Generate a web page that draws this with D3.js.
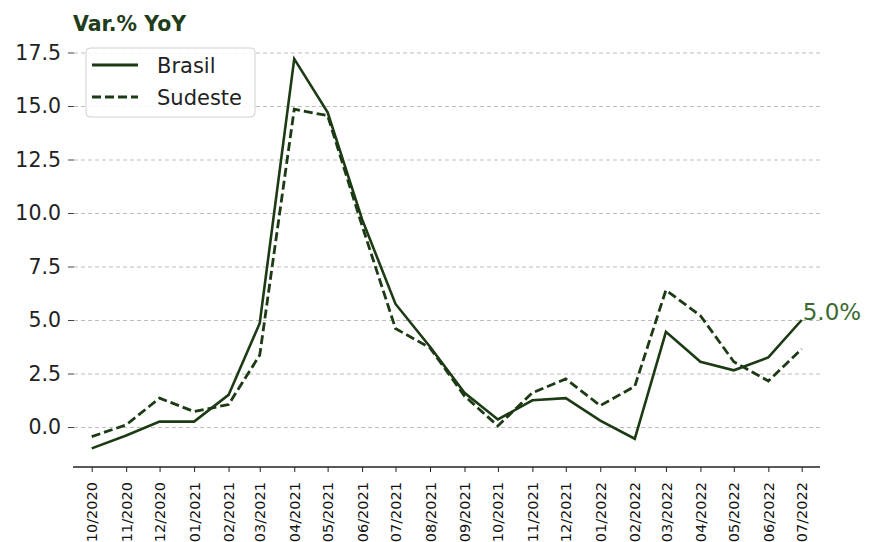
<!DOCTYPE html>
<html>
<head>
<meta charset="utf-8">
<script src="https://cdn.jsdelivr.net/npm/d3@7"></script>
<style>
    body { margin:0; background:#fff; }
    text { font-family:"DejaVu Sans", sans-serif; }
    .grid line { stroke:#bdbdbd; stroke-dasharray:4,3; }
    .grid path { display:none; }
</style>
</head>
<body>
<svg id="graph"></svg>
<script>
// monthly YoY variation (%)
var months = ["2020-10","2020-11","2020-12","2021-01","2021-02","2021-03","2021-04",
              "2021-05","2021-06","2021-07","2021-08","2021-09","2021-10","2021-11",
              "2021-12","2022-01","2022-02","2022-03","2022-04","2022-05","2022-06","2022-07"];
var brasil  = [-1.0,-0.4,0.25,0.25,1.5,4.85,17.2,14.7,9.7,5.75,3.75,1.6,0.35,1.25,1.35,0.3,-0.55,4.45,3.05,2.65,3.25,5.0];
var sudeste = [-0.45,0.1,1.35,0.72,1.05,3.36,14.85,14.55,9.4,4.6,3.7,1.45,0.05,1.6,2.25,1.0,1.9,6.4,5.2,3.05,2.15,3.65];
var yTicks = [0,2.5,5,7.5,10,12.5,15,17.5];
var seriesNames = ["Brasil","Sudeste"];

var screen = {width:869, height:542};
var plot = {left:74, right:820, top:52.5, zero:427, axisY:467};
var green = "#1c3a14";

var svg = d3.select("#graph")
    .attr("width", screen.width)
    .attr("height", screen.height);

var parse = d3.timeParse("%Y-%m");
var dates = months.map(function(m){return parse(m);});

var xScale = d3.scaleTime()
    .domain([dates[0], dates[dates.length-1]])
    .range([91.7, 801.7]);
var yScale = d3.scaleLinear()
    .domain([0, 17.5])
    .range([plot.zero, plot.top]);

// gridlines
svg.append("g")
    .classed("grid", true)
    .attr("transform","translate("+plot.left+",0)")
    .call(d3.axisLeft(yScale).tickValues(yTicks).tickFormat("")
        .tickSize(-(plot.right-plot.left)));

// y axis ticks
var yAxis = svg.append("g")
    .attr("transform","translate("+plot.left+",0)")
    .call(d3.axisLeft(yScale).tickValues(yTicks).tickFormat(d3.format(".1f")).tickSize(6).tickPadding(7));
yAxis.select(".domain").remove();
yAxis.selectAll("line").attr("stroke","#444");
yAxis.selectAll("text")
    .attr("fill","#222")
    .style("font-size","20.5px")
    .style("font-family","DejaVu Sans");

// x axis
var xAxis = svg.append("g")
    .attr("transform","translate(0,"+plot.axisY+")")
    .call(d3.axisBottom(xScale).tickValues(dates).tickFormat(d3.timeFormat("%m/%Y"))
        .tickSize(5).tickSizeOuter(0));
xAxis.select(".domain").remove();
xAxis.selectAll("line").attr("stroke","#222");
xAxis.selectAll("text")
    .attr("y",0)
    .attr("x",-15)
    .attr("dy","0.35em")
    .attr("transform","rotate(-90)")
    .style("text-anchor","end")
    .attr("fill","#111")
    .style("font-size","14.5px")
    .style("font-family","DejaVu Sans");

svg.append("line")
    .attr("x1",plot.left-1).attr("x2",plot.right)
    .attr("y1",plot.axisY).attr("y2",plot.axisY)
    .attr("stroke","#222")
    .attr("stroke-width",1.5);

// lines
var lineGenerator = d3.line()
    .x(function(v,i){return xScale(dates[i]);})
    .y(function(v){return yScale(v);});

svg.append("path")
    .datum(sudeste)
    .attr("d",lineGenerator)
    .attr("fill","none")
    .attr("stroke",green)
    .attr("stroke-width",2.8)
    .attr("stroke-dasharray","9,4");

svg.append("path")
    .datum(brasil)
    .attr("d",lineGenerator)
    .attr("fill","none")
    .attr("stroke",green)
    .attr("stroke-width",2.6);

// last value label
var last = brasil.length-1;
svg.append("text")
    .text(d3.format(".1f")(brasil[last])+"%")
    .attr("x",xScale(dates[last])+1)
    .attr("y",yScale(brasil[last]))
    .attr("fill","#3a6a32")
    .style("font-size","23px");

// title
svg.append("text")
    .text("Var.% YoY")
    .attr("x",73)
    .attr("y",31)
    .attr("fill","#1f3d1a")
    .style("font-weight","bold")
    .style("font-size","20.5px");

// legend
var legend = svg.append("g")
    .attr("transform","translate(86,48)");
legend.append("rect")
    .attr("width",169)
    .attr("height",69)
    .attr("rx",4)
    .attr("fill","white")
    .attr("fill-opacity",0.85)
    .attr("stroke","#d0d0d0");

var entries = legend.selectAll("g.entry")
    .data(seriesNames)
    .enter()
    .append("g")
    .classed("entry",true)
    .attr("transform",function(d,i){return "translate(0,"+(17+i*32)+")";});
entries.append("line")
    .attr("x1",6).attr("x2",52)
    .attr("stroke",green)
    .attr("stroke-width",2.8)
    .attr("stroke-dasharray",function(d,i){return i==0 ? null : "9,4";});
entries.append("text")
    .text(function(d){return d;})
    .attr("x",71)
    .attr("y",8)
    .attr("fill","#222")
    .style("font-size","21px");
</script>
</body>
</html>
